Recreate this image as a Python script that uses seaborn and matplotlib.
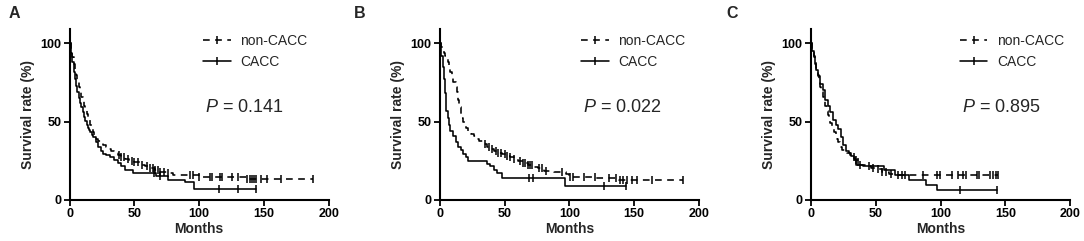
import numpy as np
import pandas as pd
import matplotlib
matplotlib.use("Agg")
import matplotlib.pyplot as plt
from matplotlib.lines import Line2D
import seaborn as sns

# ---------------- data ----------------
panel_labels = ["A", "B", "C"]
p_texts = ["0.141", "0.022", "0.895"]
legend_labels = ["non-CACC", "CACC"]
x_ticks = [0, 50, 100, 150, 200]
y_ticks = [0, 50, 100]

# Panel A
a_non_t = [0, 1, 2, 3, 4, 5, 6, 7, 8, 9, 10, 11, 12, 13, 14, 15, 16, 17, 18, 19, 20, 22, 24, 26, 28,
           30, 32, 34, 37, 40, 43, 46, 50, 54, 58, 62, 66, 70, 75, 80, 90, 100, 115, 137]
a_non_s = [100, 96, 91, 87, 83, 80, 76, 72, 69, 66, 63, 60, 58, 55, 53, 51, 48, 46, 43, 41, 39, 37.5,
           36, 35, 34, 32.5, 31, 30, 28.5, 27.3, 26, 25, 23.8, 22.5, 21.3, 20.2, 18.8, 17.8, 16.8, 16,
           15.5, 14.8, 14.2, 13.3]
a_non_end = 188
a_non_cens = [38, 40, 42, 45, 48, 50, 53, 56, 60, 62, 64, 66, 68, 70, 73, 76, 93, 95, 100, 108, 110,
              116, 118, 125, 130, 137, 139, 141, 142, 144, 148, 152, 163, 188]
a_cacc_t = [0, 1, 2, 3, 4, 5, 6, 7, 8, 9, 10, 11, 12, 13, 14, 15, 16, 17, 18, 20, 22, 24, 26, 28, 31,
            34, 37, 40, 43, 49, 67, 76, 89, 96]
a_cacc_s = [100, 94, 88, 82, 77, 73, 69, 65, 62, 59, 56, 53, 50.5, 48, 46, 44.5, 43, 41.5, 40, 37, 34,
            31, 29.5, 28.3, 27, 25.5, 23.5, 21.5, 19, 17, 15.4, 12.6, 11.1, 6.8]
a_cacc_end = 144
a_cacc_cens = [65, 70, 115, 130, 144]

# Panel B
b_non_t = [0, 1, 2, 3, 4, 5, 6, 7, 8, 9, 10, 12, 13, 14, 15, 16, 17, 18, 19, 20, 22, 24, 26, 28, 30,
           33, 36, 39, 42, 45, 48, 51, 54, 57, 60, 64, 68, 72, 76, 80, 88, 97, 100, 120, 138]
b_non_s = [100, 98, 96, 94, 92, 90, 88, 85, 82, 78, 75, 72, 69, 64, 59, 55, 52, 49.5, 47.5, 46, 44,
           42, 40.5, 39, 37.5, 35.5, 34, 32.5, 31, 30, 29, 28, 27, 26, 25, 23.5, 22, 21, 20, 18.5,
           17.5, 16.5, 14.5, 13.7, 12.5]
b_non_end = 188
b_non_cens = [35, 38, 40, 43, 45, 47, 50, 52, 54, 57, 62, 64, 66, 68, 69.4, 70.7, 76.6, 78.4, 81.8,
              93.9, 100.3, 102.9, 111.1, 119.6, 130.7, 136.3, 138.9, 141.5, 144.1, 147.9, 151.8,
              163.4, 188]
b_cacc_t = [0, 1, 2, 3, 4, 5, 6, 7, 8, 10, 12, 14, 16, 18, 20, 22, 36, 39, 42, 44, 48, 96.4]
b_cacc_s = [100, 92, 85, 77, 68, 57, 52, 48, 44, 40.5, 37, 34, 31.5, 29, 27, 25, 23, 21.5, 19, 17,
            14, 9]
b_cacc_end = 144
b_cacc_cens = [69, 71.6, 126.5, 144]

# Panel C
c_non_t = [0, 1, 2, 3, 4, 5, 6, 7, 8, 9, 10, 11, 12, 13, 14, 15, 16, 17, 18, 19, 20, 21, 22, 23, 24,
           26, 28, 30, 32, 34, 36, 38, 42, 46, 50, 55, 60, 66]
c_non_s = [100, 96, 92, 88, 84, 80, 76, 72, 69, 66, 63, 60, 57, 54, 52, 49, 47, 45, 43, 41, 39, 37,
           35, 33.5, 32, 31, 30, 28.5, 27, 25.5, 24, 22.5, 21.5, 20.5, 19.5, 17.5, 16.5, 15.8]
c_non_end = 144.6
c_non_cens = [33, 35, 36, 38, 45, 48, 52, 55, 58, 62, 67.4, 70, 72.6, 86.7, 97, 99.6, 108.6, 113.8,
              117.6, 119.7, 127.9, 130, 138.2, 140.8, 142.9, 144.6]
c_cacc_t = [0, 1, 2, 3, 4, 5, 7, 9, 11, 13, 15, 17, 19, 21, 23, 25, 27, 29, 31, 33, 35, 40, 56, 65,
            76, 89, 97]
c_cacc_s = [100, 95, 91, 87, 83, 79, 74, 70, 64, 60, 56, 51, 48, 45, 40, 35, 31, 30, 28, 26, 22,
            21.8, 19, 15.8, 12.6, 9.4, 6.2]
c_cacc_end = 143.4
c_cacc_cens = [114.7, 143.4]

panels = [
    (a_non_t, a_non_s, a_non_end, a_non_cens, a_cacc_t, a_cacc_s, a_cacc_end, a_cacc_cens),
    (b_non_t, b_non_s, b_non_end, b_non_cens, b_cacc_t, b_cacc_s, b_cacc_end, b_cacc_cens),
    (c_non_t, c_non_s, c_non_end, c_non_cens, c_cacc_t, c_cacc_s, c_cacc_end, c_cacc_cens),
]

# ---------------- style ----------------
sns.set_style("ticks")
plt.rcParams["font.family"] = ["Liberation Sans", "DejaVu Sans"]
plt.rcParams["mathtext.fontset"] = "custom"
plt.rcParams["mathtext.it"] = "Liberation Sans:italic"
plt.rcParams["mathtext.rm"] = "Liberation Sans"

DASH = (0, (4.2, 3.4))
LW = 1.15

fig = plt.figure(figsize=(10.84, 2.41), dpi=100)
lefts = [0.0643, 0.4059, 0.7482]
label_x = [9 / 1084, 354 / 1084, 726 / 1084]
text_x = [0.522, 0.552, 0.582]


def km_frame(t, s, end):
    tt = list(t) + [end]
    ss = list(s) + [s[-1]]
    return pd.DataFrame({"Months": tt, "Survival": ss})


def cens_frame(t, s, cens):
    t = np.asarray(t, float)
    s = np.asarray(s, float)
    c = np.asarray(cens, float)
    idx = np.searchsorted(t, c, side="right") - 1
    return pd.DataFrame({"Months": c, "Survival": s[idx]})


for i, (nt, ns, ne, nc, ct, cs, ce, cc) in enumerate(panels):
    ax = fig.add_axes([lefts[i], 0.1714, 0.2389, 0.707])
    sns.lineplot(data=km_frame(nt, ns, ne), x="Months", y="Survival", ax=ax, color="black",
                 estimator=None, sort=False, drawstyle="steps-post", lw=LW, linestyle=DASH)
    sns.lineplot(data=km_frame(ct, cs, ce), x="Months", y="Survival", ax=ax, color="black",
                 estimator=None, sort=False, drawstyle="steps-post", lw=LW)
    sns.scatterplot(data=cens_frame(nt, ns, nc), x="Months", y="Survival", ax=ax, marker="|",
                    s=26, color="black", linewidth=1.1, zorder=3)
    sns.scatterplot(data=cens_frame(ct, cs, cc), x="Months", y="Survival", ax=ax, marker="|",
                    s=26, color="black", linewidth=1.1, zorder=3)

    ax.set_xlim(0, 200)
    ax.set_ylim(0, 109)
    ax.set_xticks(x_ticks)
    ax.set_yticks(y_ticks)
    sns.despine(ax=ax)
    for side in ["left", "bottom"]:
        ax.spines[side].set_linewidth(1.5)
        ax.spines[side].set_color("black")
    ax.tick_params(axis="both", direction="out", length=4, width=1.3, labelsize=9,
                   pad=2, colors="black")
    plt.setp(ax.get_xticklabels(), fontweight="bold")
    plt.setp(ax.get_yticklabels(), fontweight="bold")
    ax.set_xlabel("Months", fontsize=10, fontweight="bold")
    ax.set_ylabel("Survival rate (%)", fontsize=10, fontweight="bold")
    ax.xaxis.set_label_coords(0.5, -0.13)
    ax.yaxis.label.set_va("center")
    ax.yaxis.set_label_coords(-0.161, 0.5)

    handles = [
        Line2D([0], [0], color="black", lw=LW, linestyle=DASH, marker="|", markersize=5.5,
               markeredgewidth=1.1),
        Line2D([0], [0], color="black", lw=LW, marker="|", markersize=5.5, markeredgewidth=1.1),
    ]
    ax.legend(handles=handles, labels=legend_labels, loc="upper left",
              bbox_to_anchor=(text_x[i] - 0.008, 0.975), frameon=False, fontsize=10,
              handlelength=2.0, handletextpad=0.7, labelspacing=0.5, borderpad=0,
              borderaxespad=0, numpoints=1)
    ax.text(text_x[i], 0.544, f"$P$ = {p_texts[i]}", transform=ax.transAxes, fontsize=13,
            ha="left", va="center")

    fig.text(label_x[i], 1 - 18.5 / 241, panel_labels[i], fontsize=11.5, fontweight="bold",
             ha="left", va="baseline")

fig.savefig("out.png", dpi=100, facecolor="white")
